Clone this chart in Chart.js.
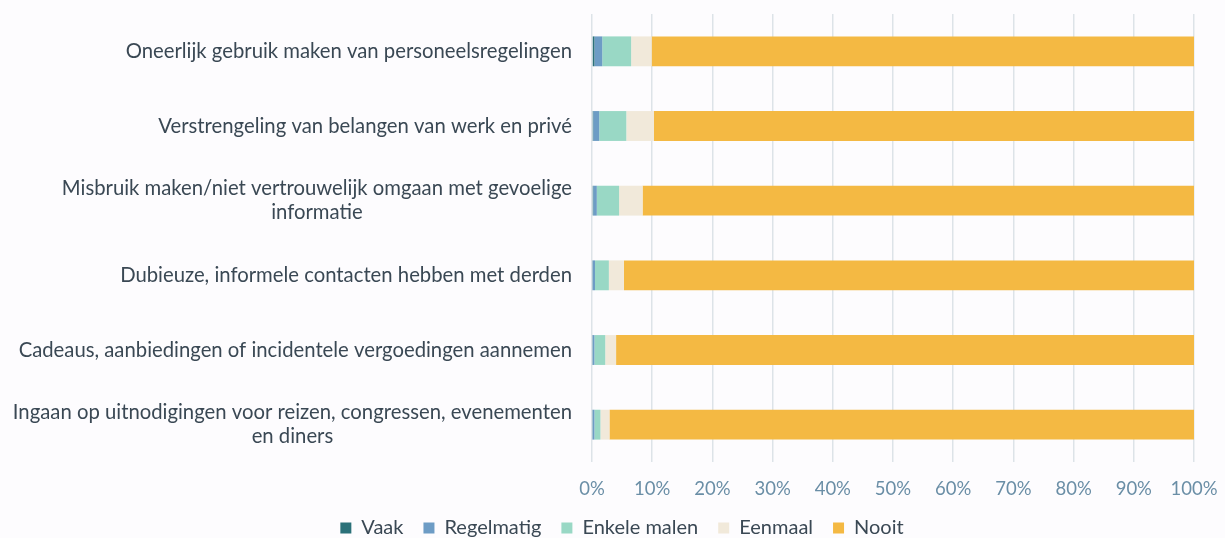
<!DOCTYPE html>
<html><head><meta charset="utf-8">
<script src="https://cdn.jsdelivr.net/npm/chart.js@4/dist/chart.umd.min.js"></script>
<style>html,body{margin:0;padding:0;background:#fdfcfe;} #wrap{width:1225px;height:538px;position:relative;}</style>
</head><body><div id="wrap"><canvas id="c"></canvas></div>
<script>
const categories = [
  ["Oneerlijk gebruik maken van personeelsregelingen"],
  ["Verstrengeling van belangen van werk en privé"],
  ["Misbruik maken/niet vertrouwelijk omgaan met gevoelige", "informatie"],
  ["Dubieuze, informele contacten hebben met derden"],
  ["Cadeaus, aanbiedingen of incidentele vergoedingen aannemen"],
  ["Ingaan op uitnodigingen voor reizen, congressen, evenementen", "en diners"]
];
const seriesNames = ["Vaak", "Regelmatig", "Enkele malen", "Eenmaal", "Nooit"];
const vaak        = [0.4, 0.2, 0.2, 0.1, 0.1, 0.1];
const regelmatig  = [1.3, 1.0, 0.6, 0.4, 0.3, 0.3];
const enkeleMalen = [4.8, 4.5, 3.7, 2.3, 1.8, 1.0];
const eenmaal     = [3.4, 4.6, 3.9, 2.5, 1.8, 1.5];
const nooit       = [90.1, 89.7, 91.6, 94.7, 96.0, 97.1];
const xTickValues = [0, 10, 20, 30, 40, 50, 60, 70, 80, 90, 100];
const xTickLabels = ["0%", "10%", "20%", "30%", "40%", "50%", "60%", "70%", "80%", "90%", "100%"];

const colors = ["#2b7179", "#6d9cc5", "#99d8c5", "#f1e9da", "#f4b943"];
const FONT = "Lato";
const seriesData = [vaak, regelmatig, enkeleMalen, eenmaal, nooit];

const yLabelPlugin = {
  id: 'yLabels',
  afterDraw(chart) {
    const ctx = chart.ctx;
    const ys = chart.scales.y;
    ctx.save();
    ctx.font = "20.3px " + FONT;
    ctx.fillStyle = "#3a4854";
    ctx.textBaseline = "middle";
    ctx.textAlign = "center";
    const rightX = 572, lh = 24;
    categories.forEach((lines, i) => {
      const cy = ys.getPixelForValue(i);
      const w = Math.max(...lines.map(l => ctx.measureText(l).width));
      const cx = rightX - w / 2;
      const y0 = cy - (lines.length - 1) * lh / 2;
      lines.forEach((l, k) => ctx.fillText(l, cx, y0 + k * lh));
    });
    ctx.restore();
  }
};

new Chart(document.getElementById('c'), {
  type: 'bar',
  data: {
    labels: categories,
    datasets: seriesNames.map((n, i) => ({
      label: n,
      data: seriesData[i],
      backgroundColor: colors[i],
      borderWidth: 0,
      barPercentage: 0.4,
      categoryPercentage: 1.0
    }))
  },
  options: {
    indexAxis: 'y',
    responsive: true,
    maintainAspectRatio: false,
    animation: false,
    layout: { padding: { top: 14, right: 31, left: 50, bottom: -10 } },
    scales: {
      x: {
        stacked: true,
        min: 0, max: 100,
        afterBuildTicks(scale) { scale.ticks = xTickValues.map(v => ({ value: v })); },
        ticks: {
          callback: (v) => xTickLabels[xTickValues.indexOf(v)],
          color: "#6a8ea6",
          font: { family: FONT, size: 18.5 },
          padding: 16,
          maxRotation: 0
        },
        grid: { color: "#dde3e8", lineWidth: 1.5, drawTicks: false },
        border: { display: false },
        afterFit(scale) { scale.height = 36; scale.paddingLeft = 0; scale.paddingRight = 0; }
      },
      y: {
        stacked: true,
        ticks: { display: false },
        grid: { display: false },
        border: { display: false },
        afterFit(scale) { scale.width = 542; }
      }
    },
    plugins: {
      legend: {
        position: 'bottom',
        labels: {
          boxWidth: 11, boxHeight: 11,
          padding: 20,
          color: "#3a4854",
          font: { family: FONT, size: 20 }
        }
      },
      tooltip: { enabled: false }
    }
  },
  plugins: [yLabelPlugin]
});
</script></body></html>
